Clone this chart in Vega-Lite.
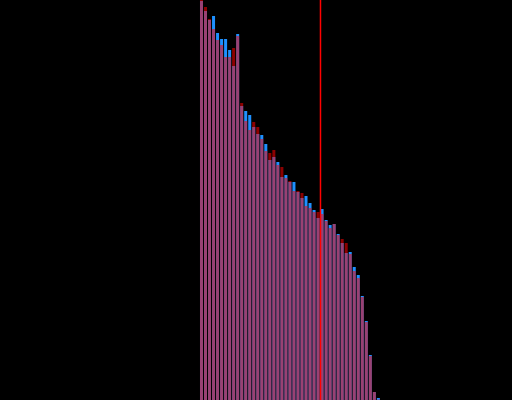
{
  "$schema": "https://vega.github.io/schema/vega-lite/v6.json",
  "width": 512,
  "height": 400,
  "autosize": "none",
  "padding": 0,
  "background": "black",
  "config": {"view": {"stroke": null}},
  "data": {"values": [
    {"i": 0, "blue": 399, "red": 400},
    {"i": 1, "blue": 389, "red": 393},
    {"i": 2, "blue": 380, "red": 381},
    {"i": 3, "blue": 384, "red": 371},
    {"i": 4, "blue": 367, "red": 360},
    {"i": 5, "blue": 361, "red": 355},
    {"i": 6, "blue": 361, "red": 343},
    {"i": 7, "blue": 350, "red": 343},
    {"i": 8, "blue": 334, "red": 352},
    {"i": 9, "blue": 366, "red": 364},
    {"i": 10, "blue": 294, "red": 297},
    {"i": 11, "blue": 289, "red": 279},
    {"i": 12, "blue": 285, "red": 270},
    {"i": 13, "blue": 273, "red": 278},
    {"i": 14, "blue": 266, "red": 273},
    {"i": 15, "blue": 265, "red": 261},
    {"i": 16, "blue": 256, "red": 249},
    {"i": 17, "blue": 240, "red": 247},
    {"i": 18, "blue": 243, "red": 250},
    {"i": 19, "blue": 238, "red": 235},
    {"i": 20, "blue": 223, "red": 233},
    {"i": 21, "blue": 225, "red": 222},
    {"i": 22, "blue": 218, "red": 219},
    {"i": 23, "blue": 218, "red": 209},
    {"i": 24, "blue": 208, "red": 209},
    {"i": 25, "blue": 202, "red": 207},
    {"i": 26, "blue": 204, "red": 194},
    {"i": 27, "blue": 197, "red": 192},
    {"i": 28, "blue": 190, "red": 188},
    {"i": 29, "blue": 182, "red": 188},
    {"i": 30, "blue": 191, "red": 186},
    {"i": 31, "blue": 180, "red": 179},
    {"i": 32, "blue": 175, "red": 172},
    {"i": 33, "blue": 176, "red": 176},
    {"i": 34, "blue": 166, "red": 165},
    {"i": 35, "blue": 157, "red": 161},
    {"i": 36, "blue": 147, "red": 157},
    {"i": 37, "blue": 148, "red": 146},
    {"i": 38, "blue": 133, "red": 129},
    {"i": 39, "blue": 125, "red": 122},
    {"i": 40, "blue": 104, "red": 103},
    {"i": 41, "blue": 79, "red": 78},
    {"i": 42, "blue": 45, "red": 44},
    {"i": 43, "blue": 8, "red": 8},
    {"i": 44, "blue": 2, "red": 0.5}
  ]},
  "layer": [
    {
      "mark": {"type": "bar", "width": 3, "color": "#1e90ff"},
      "encoding": {
        "x": {"field": "i", "type": "quantitative", "scale": {"domain": [-50.12, 77.24], "nice": false, "zero": false, "padding": 0}, "axis": null},
        "y": {"field": "blue", "type": "quantitative", "scale": {"domain": [0, 400], "nice": false, "padding": 0}, "axis": null}
      }
    },
    {
      "mark": {"type": "bar", "width": 3, "color": "#ff0000", "opacity": 0.55},
      "encoding": {
        "x": {"field": "i", "type": "quantitative"},
        "y": {"field": "red", "type": "quantitative"}
      }
    },
    {
      "data": {"values": [{"m": 29.6}]},
      "mark": {"type": "rule", "color": "#ff0000", "strokeWidth": 1.5},
      "encoding": {
        "x": {"field": "m", "type": "quantitative"}
      }
    }
  ]
}
